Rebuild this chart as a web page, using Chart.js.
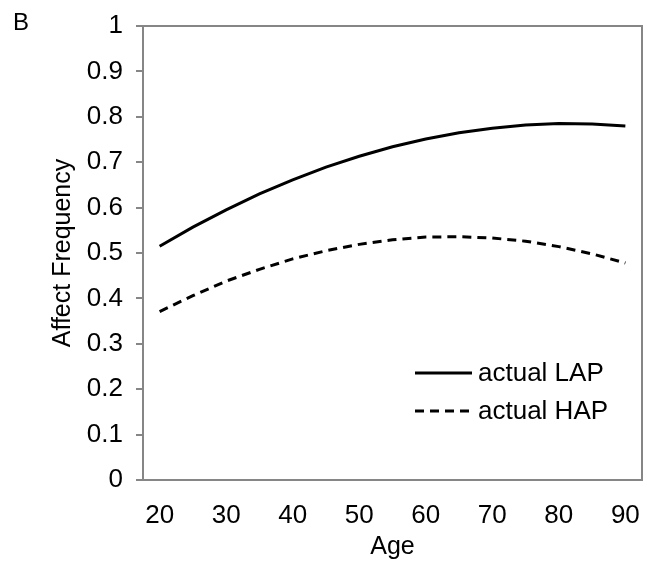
<!DOCTYPE html>
<html>
<head>
<meta charset="utf-8">
<script src="https://cdn.jsdelivr.net/npm/chart.js@4"></script>
<style>
  html, body { margin: 0; padding: 0; background: #fff; }
  canvas { display: block; }
</style>
</head>
<body>
<canvas id="lineChart" width="648" height="567"></canvas>
<script>
// Ages (every 5 years, labelled every 10)
const ages = [20, 25, 30, 35, 40, 45, 50, 55, 60, 65, 70, 75, 80, 85, 90];
// Values
const actualLAP = [0.515, 0.557, 0.595, 0.630, 0.661, 0.689, 0.713, 0.734, 0.751, 0.765, 0.775, 0.782, 0.785, 0.784, 0.780];
const actualHAP = [0.371, 0.406, 0.438, 0.464, 0.487, 0.505, 0.519, 0.529, 0.535, 0.536, 0.533, 0.526, 0.514, 0.498, 0.478];
const yTicks = [0, 0.1, 0.2, 0.3, 0.4, 0.5, 0.6, 0.7, 0.8, 0.9, 1];

const FONT = "'Liberation Sans', Arial, sans-serif";
const AXIS_GREY = '#868686';

// Frame around plot area, the inner legend and the panel letter
const framePlugin = {
    id: 'frame',
    afterDraw(chart) {
        const {ctx, chartArea: a} = chart;
        ctx.save();
        ctx.strokeStyle = AXIS_GREY;
        ctx.lineWidth = 2;
        ctx.strokeRect(a.left, a.top, a.right - a.left, a.bottom - a.top);

        // legend
        ctx.font = '26px ' + FONT;
        ctx.fillStyle = '#000';
        ctx.textBaseline = 'middle';
        chart.data.datasets.forEach((ds, i) => {
            const y = a.top + 347 + i * 38;
            const x0 = a.right - 227;
            ctx.beginPath();
            ctx.setLineDash(ds.borderDash || []);
            ctx.lineWidth = ds.borderWidth;
            ctx.strokeStyle = ds.borderColor;
            ctx.moveTo(x0, y);
            ctx.lineTo(x0 + 57, y);
            ctx.stroke();
            ctx.setLineDash([]);
            ctx.fillText(ds.label, x0 + 63, y + 1);
        });

        // panel letter
        ctx.textBaseline = 'alphabetic';
        ctx.font = '24px ' + FONT;
        ctx.fillText('B', 13, 30);
        ctx.restore();
    }
};

const chartConfig = {
    type: 'line',
    data: {
        labels: ages,
        datasets: [{
            label: 'actual LAP',
            data: actualLAP,
            borderColor: '#000',
            borderWidth: 3,
            pointRadius: 0,
            tension: 0
        }, {
            label: 'actual HAP',
            data: actualHAP,
            borderColor: '#000',
            borderWidth: 3,
            borderDash: [9, 6],
            pointRadius: 0,
            tension: 0
        }]
    },
    options: {
        responsive: false,
        animation: false,
        layout: { padding: { top: 26, right: 6, left: 0, bottom: 0 } },
        plugins: {
            legend: { display: false },
            tooltip: { enabled: false }
        },
        scales: {
            x: {
                type: 'category',
                offset: true,
                afterFit: scale => {
                    scale.height = 87;
                    scale.paddingLeft = 0;
                    scale.paddingRight = 0;
                },
                grid: { display: false, drawTicks: false },
                border: { display: true, color: AXIS_GREY, width: 2 },
                ticks: {
                    autoSkip: false,
                    maxRotation: 0,
                    padding: 20,
                    color: '#000',
                    font: { family: FONT, size: 26 },
                    callback: (value, index) => (index % 2 === 0 ? ages[index] : '')
                },
                title: {
                    display: true,
                    text: 'Age',
                    color: '#000',
                    font: { family: FONT, size: 25 },
                    padding: { top: 0, bottom: 5 }
                }
            },
            y: {
                min: 0,
                max: 1,
                afterFit: scale => {
                    scale.width = 143;
                    scale.paddingTop = 0;
                    scale.paddingBottom = 0;
                },
                afterBuildTicks: scale => { scale.ticks = yTicks.map(v => ({ value: v })); },
                grid: { drawOnChartArea: false, drawTicks: true, tickLength: 7, color: AXIS_GREY, lineWidth: 2 },
                border: { display: true, color: AXIS_GREY, width: 2 },
                ticks: {
                    padding: 13,
                    color: '#000',
                    font: { family: FONT, size: 26 },
                    callback: value => String(value)
                },
                title: {
                    display: true,
                    text: 'Affect Frequency',
                    color: '#000',
                    font: { family: FONT, size: 25 },
                    padding: { top: 48, bottom: 0 }
                }
            }
        }
    },
    plugins: [framePlugin]
};

const lineChart = new Chart(document.getElementById('lineChart'), chartConfig);
</script>
</body>
</html>
